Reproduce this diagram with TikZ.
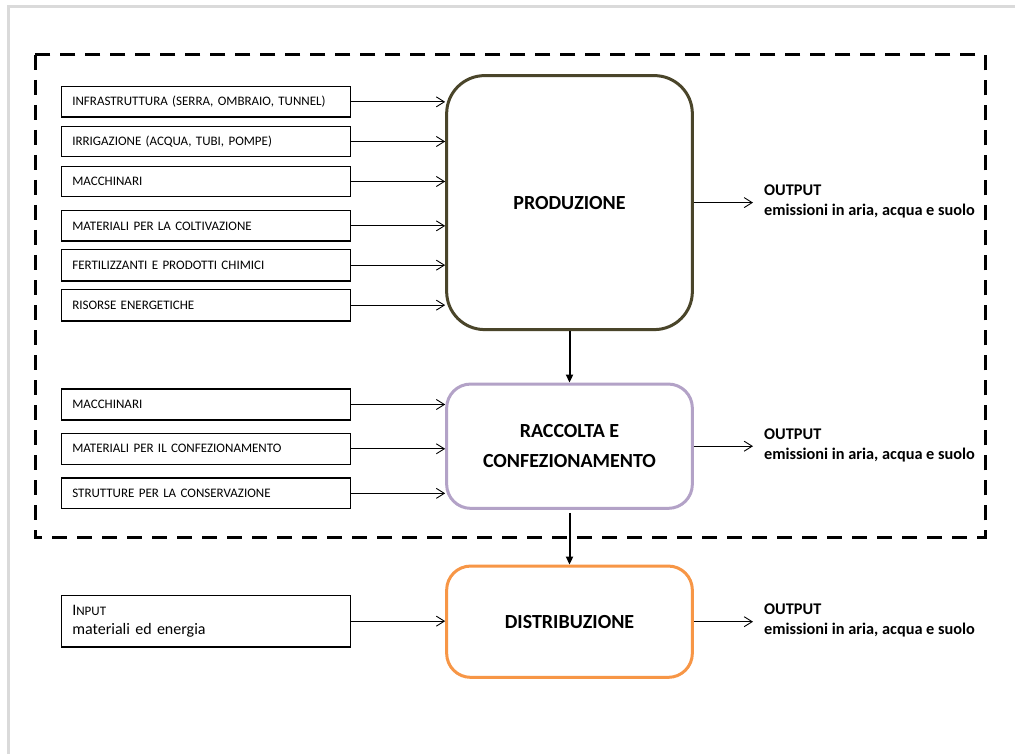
\documentclass[tikz,border=0pt]{standalone}
\usepackage{fontspec}
\setmainfont{Carlito}
\usetikzlibrary{arrows.meta}
\definecolor{framegray}{HTML}{DADADA}
\definecolor{prodcol}{HTML}{4A452A}
\definecolor{racccol}{HTML}{B3A2C7}
\definecolor{distcol}{HTML}{F79646}
\begin{document}
\begin{tikzpicture}[x=1pt,y=-1pt,
  inbox/.style={draw=black, line width=1.2pt, anchor=west, minimum height=30.5pt,
    inner xsep=11pt, inner ysep=0pt, text width=267pt, align=left,
    font=\fontsize{13}{15}\selectfont},
  phase/.style={line width=3pt, minimum width=245.7pt, align=center,
    font=\bfseries\fontsize{20}{30}\selectfont},
  feed/.style={line width=0.9pt, -{Straight Barb[length=8pt,width=10pt]}},
  flow/.style={line width=2pt, -{Triangle[length=8pt,width=7pt]}},
  outtext/.style={anchor=west, align=left, inner sep=0pt,
    font=\bfseries\fontsize{16.3}{20}\selectfont},
]
\useasboundingbox (0,0) rectangle (1015,754);
\fill[white] (0,0) rectangle (1015,754);

% page frame
\draw[framegray, line width=3pt] (1015,7) -- (8,7) -- (8,754);

% system boundary
\draw[line width=3pt, dash pattern=on 15pt off 10pt] (35,55) rectangle (985,537.7);

% phases
\node[phase, draw=prodcol, rounded corners=38pt, minimum height=254pt] (prod) at (569.5,202.6) {PRODUZIONE};
\node[phase, draw=racccol, rounded corners=24pt, minimum height=124.3pt] (racc) at (569.5,446.2) {RACCOLTA E\\CONFEZIONAMENTO};
\node[phase, draw=distcol, rounded corners=24pt, minimum height=111.3pt] (dist) at (569.5,621.7) {DISTRIBUZIONE};

% inputs of production
\node[inbox] (a1) at (60.7,101.85) {INFRASTRUTTURA (SERRA, OMBRAIO, TUNNEL)};
\node[inbox] (a2) at (60.7,141.5) {IRRIGAZIONE (ACQUA, TUBI, POMPE)};
\node[inbox] (a3) at (60.7,181.5) {MACCHINARI};
\node[inbox] (a4) at (60.7,225.85) {MATERIALI PER LA COLTIVAZIONE};
\node[inbox, minimum height=31.7pt] (a5) at (60.7,265.15) {FERTILIZZANTI E PRODOTTI CHIMICI};
\node[inbox, minimum height=31.7pt] (a6) at (60.7,305.15) {RISORSE ENERGETICHE};

% inputs of harvest and packaging
\node[inbox, minimum height=31pt] (b1) at (60.7,404.5) {MACCHINARI};
\node[inbox, minimum height=31pt] (b2) at (60.7,448.8) {MATERIALI PER IL CONFEZIONAMENTO};
\node[inbox, minimum height=30.7pt] (b3) at (60.7,493.35) {STRUTTURE PER LA CONSERVAZIONE};

% inputs of distribution
\node[inbox, minimum height=51.7pt, font=\fontsize{16}{20}\selectfont] (c1) at (60.7,621.15)
  {\raisebox{-1.5pt}{I{\fontsize{13}{20}\selectfont NPUT}}\\materiali ed energia};

% outputs
\node[outtext] (o1) at (764,201.5) {OUTPUT\\emissioni in aria, acqua e suolo};
\node[outtext] (o2) at (764,445.3) {OUTPUT\\emissioni in aria, acqua e suolo};
\node[outtext] (o3) at (764,620.5) {OUTPUT\\emissioni in aria, acqua e suolo};

% input arrows
\foreach \n in {a1,a2,a3,a4,a5,a6}
  \draw[feed] (\n.east) -- (\n.east -| prod.west);
\foreach \n in {b1,b2,b3}
  \draw[feed] (\n.east) -- (\n.east -| racc.west);
\draw[feed] (c1.east) -- (c1.east -| dist.west);

% output arrows
\draw[feed, shorten >=11pt] (prod.east) -- (prod.east -| o1.west);
\draw[feed, shorten >=11pt] (racc.east) -- (racc.east -| o2.west);
\draw[feed, shorten >=11pt] (dist.east) -- (dist.east -| o3.west);

% flow between phases
\draw[flow] (prod.south) -- (racc.north);
\draw[flow, shorten <=3pt] (racc.south) -- (dist.north);
\end{tikzpicture}
\end{document}
